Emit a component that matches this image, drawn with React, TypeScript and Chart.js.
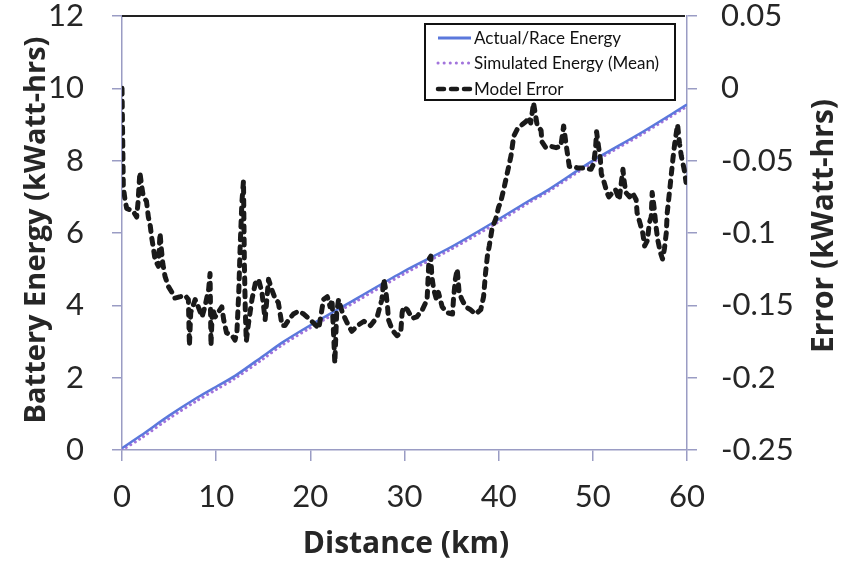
import React, { useEffect, useRef } from 'react';
import { Chart, registerables } from 'chart.js';

Chart.register(...registerables);

// ---- Data ----
const energyKm = [0, 2, 5, 8, 10, 12, 15, 17, 20, 25, 30, 35, 40, 43.4, 45, 50, 55, 60];
const actualEnergy = [0.05, 0.4, 0.95, 1.45, 1.75, 2.05, 2.6, 2.97, 3.45, 4.2, 4.95, 5.62, 6.38, 6.92, 7.15, 8.0, 8.75, 9.55];
const simulatedEnergy = [0.0, 0.32, 0.87, 1.37, 1.67, 1.98, 2.52, 2.9, 3.38, 4.13, 4.88, 5.56, 6.31, 6.87, 7.1, 7.95, 8.7, 9.5];

const errorKm = [
  0, 0.14, 0.32, 0.5, 1.2, 1.56, 1.7, 1.9, 2.1, 2.27, 2.6, 2.8, 3.0, 3.15, 3.3, 3.5, 3.86, 4.04, 4.15, 4.33,
  4.57, 4.93, 5.3, 5.6, 6.2, 6.7, 7.05, 7.16, 7.3, 7.77, 8.1, 8.5, 8.8, 9.2, 9.35, 9.45, 9.6, 9.9, 10.2, 10.6,
  10.8, 11.1, 11.7, 12.0, 12.2, 12.4, 12.55, 12.73, 12.9, 13.0, 13.1, 13.2, 13.4, 13.8, 14.15, 14.5, 14.86, 15.2, 15.56, 15.9,
  16.3, 16.6, 17.0, 17.3, 17.7, 18.2, 18.75, 19.3, 20.0, 20.9, 21.4, 21.8, 22.1, 22.3, 22.5, 22.6, 22.8, 23.0, 23.4, 23.9,
  24.4, 25.0, 25.7, 26.4, 27.1, 27.6, 27.8, 28.0, 28.2, 28.3, 28.7, 29.2, 29.6, 29.75, 29.9, 30.3, 30.8, 31.3, 31.9, 32.4,
  32.6, 32.8, 32.9, 33.1, 33.4, 33.6, 34.0, 34.5, 35.1, 35.2, 35.4, 35.6, 35.8, 36.1, 36.5, 37.0, 37.55, 38.1, 38.4, 38.6,
  38.8, 39.0, 39.3, 39.7, 40.0, 40.2, 40.6, 40.9, 41.3, 41.6, 42.0, 42.5, 42.9, 43.2, 43.4, 43.6, 43.7, 43.9, 44.1, 44.5,
  44.6, 45.0, 45.5, 46.1, 46.6, 46.9, 47.1, 47.3, 47.5, 47.8, 48.4, 49.1, 49.8, 50.1, 50.3, 50.4, 50.6, 50.8, 50.9, 51.2,
  51.5, 51.7, 52.1, 52.4, 52.8, 53.2, 53.3, 53.5, 53.9, 54.2, 54.6, 54.7, 55.0, 55.3, 55.5, 55.8, 56.0, 56.2, 56.3, 56.5,
  56.7, 56.9, 57.2, 57.4, 57.6, 57.8, 57.9, 58.2, 58.5, 58.7, 59.0, 59.2, 59.4, 59.7, 59.9,
];
const modelError = [
  0, -0.068, -0.077, -0.083, -0.085, -0.089, -0.079, -0.058, -0.068, -0.075, -0.078, -0.089, -0.095, -0.103, -0.109, -0.118, -0.123, -0.1, -0.109, -0.121,
  -0.13, -0.137, -0.141, -0.145, -0.144, -0.143, -0.146, -0.178, -0.155, -0.146, -0.151, -0.158, -0.151, -0.139, -0.128, -0.178, -0.152, -0.158, -0.155, -0.151,
  -0.16, -0.169, -0.171, -0.174, -0.169, -0.141, -0.109, -0.079, -0.064, -0.123, -0.155, -0.175, -0.164, -0.146, -0.135, -0.132, -0.141, -0.16, -0.132, -0.139,
  -0.146, -0.148, -0.164, -0.164, -0.16, -0.156, -0.154, -0.156, -0.16, -0.166, -0.146, -0.144, -0.151, -0.146, -0.174, -0.19, -0.155, -0.146, -0.155, -0.162,
  -0.168, -0.164, -0.161, -0.164, -0.158, -0.146, -0.132, -0.139, -0.151, -0.16, -0.167, -0.171, -0.169, -0.155, -0.151, -0.153, -0.159, -0.158, -0.153, -0.146,
  -0.118, -0.116, -0.13, -0.139, -0.146, -0.141, -0.151, -0.155, -0.156, -0.146, -0.132, -0.125, -0.141, -0.146, -0.151, -0.153, -0.156, -0.153, -0.144, -0.128,
  -0.116, -0.109, -0.097, -0.09, -0.082, -0.079, -0.068, -0.059, -0.047, -0.033, -0.028, -0.025, -0.023, -0.02, -0.024, -0.015, -0.01, -0.018, -0.026, -0.029,
  -0.037, -0.041, -0.04, -0.041, -0.04, -0.026, -0.036, -0.045, -0.054, -0.054, -0.055, -0.055, -0.056, -0.052, -0.04, -0.03, -0.04, -0.049, -0.059, -0.065,
  -0.072, -0.075, -0.072, -0.07, -0.077, -0.056, -0.063, -0.072, -0.075, -0.072, -0.077, -0.086, -0.093, -0.1, -0.109, -0.105, -0.093, -0.089, -0.072, -0.082,
  -0.095, -0.105, -0.114, -0.118, -0.111, -0.1, -0.086, -0.068, -0.049, -0.038, -0.025, -0.038, -0.047, -0.056, -0.065,
];

const legendLabels = ['Actual/Race Energy', 'Simulated Energy (Mean)', 'Model Error'];
const xTitle = 'Distance (km)';
const leftTitle = 'Battery Energy (kWatt-hrs)';
const rightTitle = 'Error (kWatt-hrs)';

const FONT = 'Lato, "Open Sans", sans-serif';
const TITLE_FONT = '"Open Sans", Lato, sans-serif';
const AXIS = '#9a9cc4';
const BLUE = '#5b78dc';
const PURPLE = '#a274dc';
const BLACK = '#1a1a1a';

const pairs = (xs: number[], ys: number[]) => xs.map((x, i) => ({ x, y: ys[i] }));

const decorPlugin = {
  id: 'decor',
  afterDraw(chart: any) {
    const ctx = chart.ctx as CanvasRenderingContext2D;
    const a = chart.chartArea;
    ctx.save();
    // top border
    ctx.strokeStyle = '#222';
    ctx.lineWidth = 2;
    ctx.beginPath();
    ctx.moveTo(a.left, a.top);
    ctx.lineTo(a.right - 2, a.top);
    ctx.stroke();

    // titles
    ctx.fillStyle = '#262626';
    ctx.textAlign = 'center';
    ctx.textBaseline = 'middle';
    ctx.font = `bold 30px ${TITLE_FONT}`;
    ctx.fillText(xTitle, 406, 544);
    ctx.save();
    ctx.translate(824, 226);
    ctx.rotate(-Math.PI / 2);
    ctx.fillText(rightTitle, 0, 0);
    ctx.restore();
    ctx.font = `bold 29px ${TITLE_FONT}`;
    ctx.save();
    ctx.translate(37, 230);
    ctx.rotate(-Math.PI / 2);
    ctx.fillText(leftTitle, 0, 0);
    ctx.restore();

    // legend box
    const bx = 425, by = 24, bw = 250, bh = 76;
    ctx.fillStyle = '#fff';
    ctx.fillRect(bx, by, bw, bh);
    ctx.strokeStyle = '#111';
    ctx.lineWidth = 2;
    ctx.strokeRect(bx, by, bw, bh);
    const rows = [38, 63, 89];
    ctx.font = `17px ${FONT}`;
    ctx.textAlign = 'left';
    ctx.fillStyle = '#111';
    rows.forEach((ry, i) => {
      ctx.save();
      ctx.beginPath();
      if (i === 0) {
        ctx.strokeStyle = BLUE;
        ctx.lineWidth = 3;
        ctx.setLineDash([]);
      } else if (i === 1) {
        ctx.strokeStyle = PURPLE;
        ctx.lineWidth = 3;
        ctx.lineCap = 'round';
        ctx.setLineDash([0.1, 6]);
      } else {
        ctx.strokeStyle = BLACK;
        ctx.lineWidth = 4.5;
        ctx.lineCap = 'round';
        ctx.setLineDash([6, 7]);
      }
      ctx.moveTo(438, ry);
      ctx.lineTo(471, ry);
      ctx.stroke();
      ctx.restore();
      ctx.fillText(legendLabels[i], 474, ry + 1);
    });
    ctx.restore();
  },
};

export default function App() {
  const ref = useRef<HTMLCanvasElement | null>(null);
  useEffect(() => {
    if (!ref.current) return;
    const tickFont = { family: FONT, size: 31 };
    const fitY = (w: number) => (s: any) => {
      s.width = w;
      s.paddingTop = 0;
      s.paddingBottom = 0;
    };
    const chart = new Chart(ref.current, {
      type: 'line',
      data: {
        datasets: [
          {
            label: legendLabels[2],
            data: pairs(errorKm, modelError),
            yAxisID: 'y2',
            borderColor: BLACK,
            borderWidth: 5,
            borderDash: [6, 7],
            borderCapStyle: 'round',
            borderJoinStyle: 'round',
            pointRadius: 0,
            tension: 0,
            order: 0,
          },
          {
            label: legendLabels[0],
            data: pairs(energyKm, actualEnergy),
            yAxisID: 'y',
            borderColor: BLUE,
            borderWidth: 2.5,
            pointRadius: 0,
            tension: 0.3,
            order: 1,
          },
          {
            label: legendLabels[1],
            data: pairs(energyKm, simulatedEnergy),
            yAxisID: 'y',
            borderColor: PURPLE,
            borderWidth: 3,
            borderDash: [0.1, 5],
            borderCapStyle: 'round',
            pointRadius: 0,
            tension: 0.3,
            order: 2,
          },
        ],
      },
      options: {
        animation: false,
        responsive: false,
        devicePixelRatio: 1,
        layout: { padding: { top: 16, left: 0, right: 0, bottom: 0 } },
        plugins: { legend: { display: false }, tooltip: { enabled: false } },
        scales: {
          x: {
            type: 'linear',
            min: 0,
            max: 60,
            ticks: { stepSize: 10, font: tickFont, color: '#262626', padding: 17, maxRotation: 0 },
            grid: { drawOnChartArea: false, drawTicks: true, tickLength: 11, color: AXIS, lineWidth: 1.5 },
            border: { display: true, color: AXIS, width: 1.5 },
            afterFit: (s: any) => {
              s.height = 115;
              s.paddingLeft = 0;
              s.paddingRight = 0;
            },
          },
          y: {
            position: 'left',
            min: 0,
            max: 12,
            ticks: { stepSize: 2, font: tickFont, color: '#262626', padding: 28 },
            grid: { drawOnChartArea: false, drawTicks: true, tickLength: 10, color: AXIS, lineWidth: 1.5 },
            border: { display: true, color: AXIS, width: 1.5 },
            afterFit: fitY(122),
          },
          y2: {
            position: 'right',
            min: -0.25,
            max: 0.05,
            ticks: {
              stepSize: 0.05,
              font: tickFont,
              color: '#262626',
              padding: 24,
              callback: (v: any) => String(Math.round(Number(v) * 100) / 100),
            },
            grid: { drawOnChartArea: false, drawTicks: true, tickLength: 10, color: AXIS, lineWidth: 1.5 },
            border: { display: true, color: AXIS, width: 1.5 },
            afterFit: fitY(154),
          },
        },
      },
      plugins: [decorPlugin],
    } as any);
    return () => chart.destroy();
  }, []);
  return (
    <div style={{ position: 'absolute', left: 0, top: 0, width: 841, height: 565, background: '#fff' }}>
      <canvas ref={ref} width={841} height={565} />
    </div>
  );
}
